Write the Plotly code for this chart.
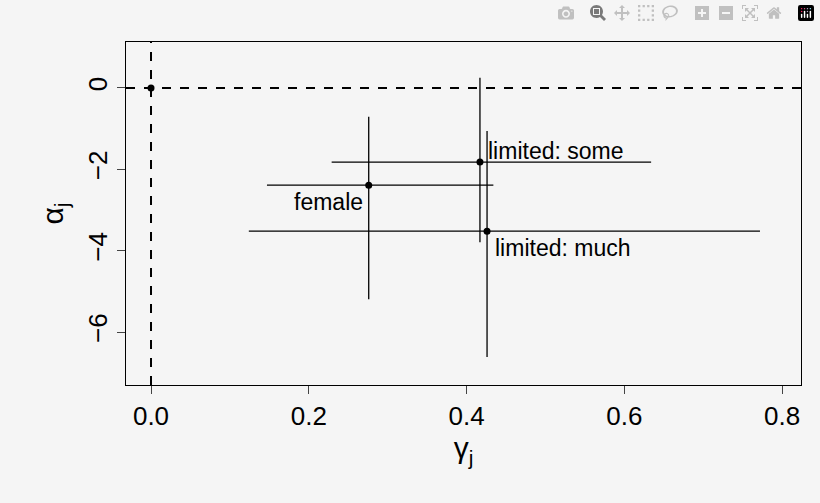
import plotly.graph_objects as go

labels = ["female", "limited: some", "limited: much"]
gamma = [0.276, 0.417, 0.426]
alpha = [-2.39, -1.82, -3.52]
gamma_lo = [0.147, 0.229, 0.124]
gamma_hi = [0.434, 0.634, 0.772]
alpha_lo = [-5.19, -3.79, -6.61]
alpha_hi = [-0.71, 0.25, -1.06]
label_pos = ["bottom left", "top right", "bottom right"]

fig = go.Figure()
for i in range(len(labels)):
    fig.add_trace(go.Scatter(x=[gamma_lo[i], gamma_hi[i]], y=[alpha[i], alpha[i]], mode="lines",
                             line=dict(color="black", width=1.3), showlegend=False))
    fig.add_trace(go.Scatter(x=[gamma[i], gamma[i]], y=[alpha_lo[i], alpha_hi[i]], mode="lines",
                             line=dict(color="black", width=1.3), showlegend=False))
fig.add_trace(go.Scatter(x=[0] + gamma, y=[0] + alpha, mode="markers",
                         marker=dict(color="black", size=7), showlegend=False))
for i in range(len(labels)):
    fig.add_annotation(x=gamma[i], y=alpha[i], text=labels[i], showarrow=False,
                       xanchor="right" if "left" in label_pos[i] else "left",
                       yanchor="top" if "bottom" in label_pos[i] else "bottom",
                       xshift=-4 if "left" in label_pos[i] else 6,
                       yshift=-2 if "bottom" in label_pos[i] else -4,
                       font=dict(size=23, color="black"))
fig.add_hline(y=0, line=dict(color="black", width=2, dash="dash"))
fig.add_vline(x=0, line=dict(color="black", width=2, dash="dash"))

fig.update_layout(
    width=820, height=503, paper_bgcolor="#f5f5f5", plot_bgcolor="#f5f5f5",
    margin=dict(l=126, r=19, t=42, b=118),
    font=dict(family="Liberation Sans, Arial", size=26, color="black"),
)
fig.update_xaxes(range=[-0.0317, 0.824], tickvals=[0, 0.2, 0.4, 0.6, 0.8],
                 ticktext=["0.0", "0.2", "0.4", "0.6", "0.8"], showgrid=False, zeroline=False,
                 showline=True, mirror=True, linecolor="black", ticks="outside", ticklen=8,
                 title=dict(text="γ<sub>j</sub>", standoff=6, font=dict(size=30)))
fig.update_yaxes(range=[-7.30, 1.13], tickvals=[0, -2, -4, -6], ticktext=["0", "−2", "−4", "−6"],
                 tickangle=-90, showgrid=False, zeroline=False,
                 showline=True, mirror=True, linecolor="black", ticks="outside", ticklen=8,
                 title=dict(text="α<sub>j</sub>", standoff=10, font=dict(size=30)))
fig.write_html("out.html",
               post_script="document.body.style.margin='0';document.body.style.background='#f5f5f5';")
